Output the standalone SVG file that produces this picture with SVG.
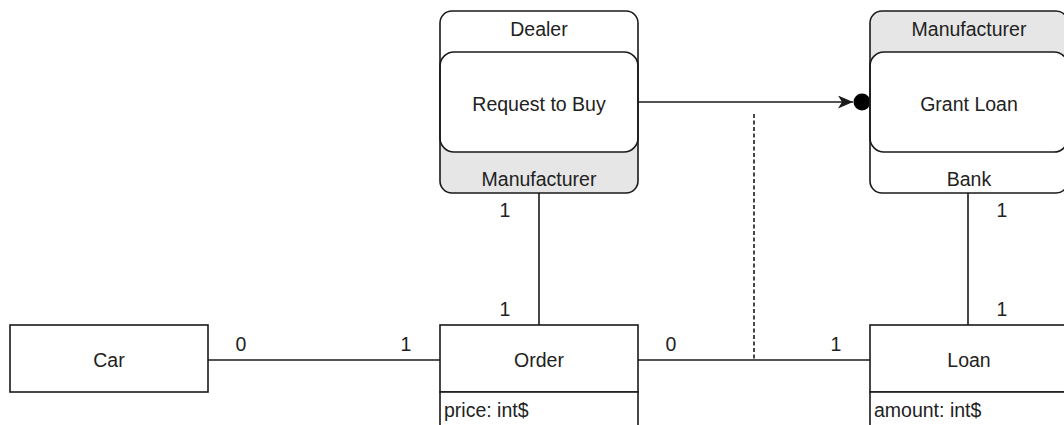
<svg xmlns="http://www.w3.org/2000/svg" width="1064" height="425" viewBox="0 0 1064 425">
  <style>
    .box { fill: #ffffff; stroke: #1a1a1a; stroke-width: 1.6; }
    .frame { fill: none; stroke: #1a1a1a; stroke-width: 1.6; }
    .band { fill: #e6e6e6; stroke: none; }
    .plain { fill: #ffffff; stroke: none; }
    .edge { fill: none; stroke: #1a1a1a; stroke-width: 1.6; }
    .dash { fill: none; stroke: #1a1a1a; stroke-width: 1.6; stroke-dasharray: 4 2.5; }
    text { font-family: "Liberation Sans", Arial, sans-serif; font-size: 19.5px; fill: #222222; }
    .c { text-anchor: middle; }
  </style>
  <defs>
    <marker id="arrow" viewBox="0 0 15 13" refX="15" refY="6.5" markerWidth="15" markerHeight="13" markerUnits="userSpaceOnUse" orient="auto">
      <path d="M0,0 L15,6.5 L0,13 L4,6.5 Z" fill="#1a1a1a"/>
    </marker>
  </defs>

  <!-- connectors -->
  <g id="connectors">
    <line class="edge" x1="208" y1="360" x2="440" y2="360"/>
    <line class="edge" x1="638" y1="360" x2="870" y2="360"/>
    <line class="edge" x1="539" y1="193" x2="539" y2="325"/>
    <line class="edge" x1="968" y1="193" x2="968" y2="325"/>
    <line class="dash" x1="754" y1="114" x2="754" y2="360"/>
    <line class="edge" x1="638" y1="102" x2="853" y2="102" marker-end="url(#arrow)"/>
    <circle cx="862" cy="102" r="8.5" fill="#000000"/>
    <text class="c" x="241" y="351">0</text>
    <text class="c" x="406" y="351">1</text>
    <text class="c" x="505" y="217">1</text>
    <text class="c" x="505" y="316">1</text>
    <text class="c" x="671" y="351">0</text>
    <text class="c" x="836" y="351">1</text>
    <text class="c" x="1002" y="217">1</text>
    <text class="c" x="1002" y="316">1</text>
  </g>

  <!-- Dealer / Manufacturer activity -->
  <g id="request-to-buy">
    <rect class="band" x="440" y="11" width="198" height="182" rx="12"/>
    <path class="plain" d="M440,102 V23 A12,12 0 0 1 452,11 H626 A12,12 0 0 1 638,23 V102 Z"/>
    <rect class="box" x="440" y="52" width="198" height="100" rx="14"/>
    <rect class="frame" x="440" y="11" width="198" height="182" rx="12"/>
    <text class="c" x="539" y="36">Dealer</text>
    <text class="c" x="539" y="111">Request to Buy</text>
    <text class="c" x="539" y="186">Manufacturer</text>
  </g>

  <!-- Manufacturer / Bank activity -->
  <g id="grant-loan">
    <rect class="plain" x="870" y="11" width="198" height="182" rx="12"/>
    <path class="band" d="M870,102 V23 A12,12 0 0 1 882,11 H1056 A12,12 0 0 1 1068,23 V102 Z"/>
    <rect class="box" x="870" y="52" width="198" height="100" rx="14"/>
    <rect class="frame" x="870" y="11" width="198" height="182" rx="12"/>
    <text class="c" x="969" y="36">Manufacturer</text>
    <text class="c" x="969" y="111">Grant Loan</text>
    <text class="c" x="969" y="186">Bank</text>
  </g>

  <!-- Car -->
  <g id="car">
    <rect class="box" x="10" y="325" width="198" height="67"/>
    <text class="c" x="109" y="367">Car</text>
  </g>

  <!-- Order -->
  <g id="order">
    <rect class="box" x="440" y="325" width="198" height="67"/>
    <rect class="box" x="440" y="392" width="198" height="60"/>
    <text class="c" x="539" y="367">Order</text>
    <text x="444" y="417">price: int$</text>
  </g>

  <!-- Loan -->
  <g id="loan">
    <rect class="box" x="870" y="325" width="198" height="67"/>
    <rect class="box" x="870" y="392" width="198" height="60"/>
    <text class="c" x="969" y="367">Loan</text>
    <text x="874" y="417">amount: int$</text>
  </g>
</svg>
